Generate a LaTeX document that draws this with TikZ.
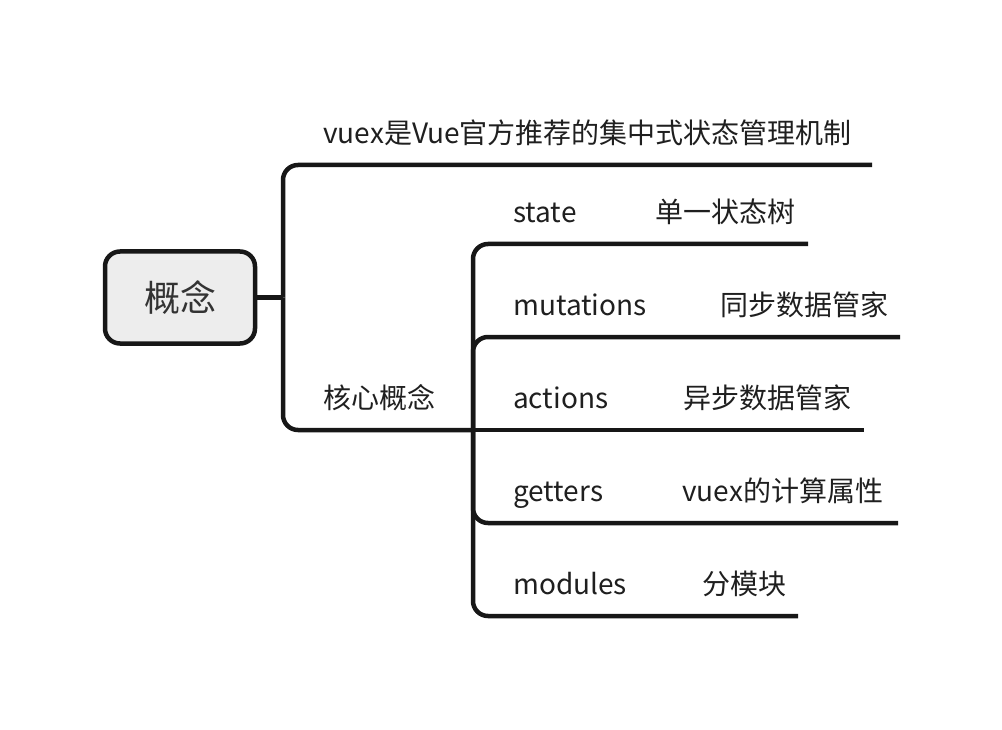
\documentclass[tikz,border=0pt]{standalone}
\usepackage{fontspec}
\setmainfont{Noto Sans CJK SC}
\begin{document}
\begin{tikzpicture}[x=1pt,y=-1pt,
  conn/.style={draw=black!91,line width=4.5pt,rounded corners=15pt},
  lbl/.style={anchor=west,inner sep=0pt,text=black!88,text height=24.6pt,text depth=3.4pt,font=\fontsize{28}{32}\selectfont},
  centre/.style={draw=black!91,line width=4.5pt,fill=black!7,rounded corners=15pt,
     minimum width=150pt,minimum height=92pt,text=black!80,font=\fontsize{36}{40}\selectfont}]
\useasboundingbox (0,0) rectangle (1002,730);
\node[centre] (c) at (180,297.5) {概念};
\coordinate (j1) at (283,297.5);
\coordinate (j2) at (473,430);
\coordinate (e1) at (872,165);
\coordinate (es) at (808,244);
\coordinate (em) at (900,337);
\coordinate (ea) at (864,430);
\coordinate (eg) at (898,523);
\coordinate (eo) at (798,616);
\draw[conn] (c.east) -- (j1);
\draw[conn] (j1) |- (e1);
\draw[conn] (j1) |- (j2);
\draw[conn] (j2) |- (es);
\draw[conn] (j2) |- (em);
\draw[conn] (j2) -- (ea);
\draw[conn] (j2) |- (eg);
\draw[conn] (j2) |- (eo);
\node[lbl] (t1) at (323,133) {vuex是Vue官方推荐的集中式状态管理机制};
\node[lbl] (t2) at (323,398) {核心概念};
\node[lbl] (s1) at (513,212) {state};
\node[lbl] (s2) at (655,212) {单一状态树};
\node[lbl] (m1) at (513,305) {mutations};
\node[lbl] (m2) at (720,305) {同步数据管家};
\node[lbl] (a1) at (513,398) {actions};
\node[lbl] (a2) at (683,398) {异步数据管家};
\node[lbl] (g1) at (513,491) {getters};
\node[lbl] (g2) at (682,491) {vuex的计算属性};
\node[lbl] (o1) at (513,584) {modules};
\node[lbl] (o2) at (702,584) {分模块};
\end{tikzpicture}
\end{document}
